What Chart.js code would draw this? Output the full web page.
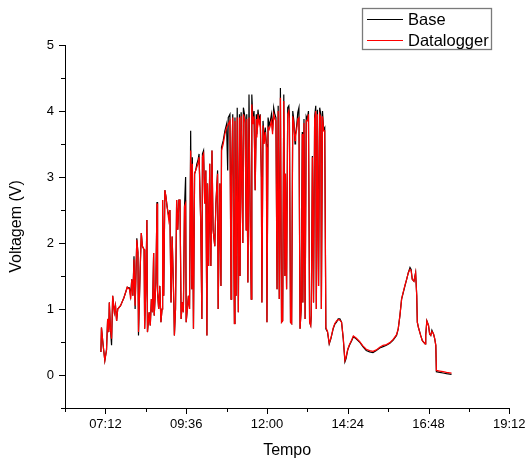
<!DOCTYPE html>
<html>
<head>
<meta charset="utf-8">
<script src="https://cdn.jsdelivr.net/npm/chart.js@4.4.1/dist/chart.umd.min.js"></script>
<style>
  html, body { margin: 0; padding: 0; background: #fff; overflow: hidden; }
  #wrap { width: 545px; height: 461px; }
</style>
</head>
<body>
<div id="wrap"><canvas id="chart" width="545" height="461"></canvas></div>
<script>
// Sample times (HH:MM) and voltages of the two acquisition systems
const times = [
  '07:04','07:05','07:08','07:11','07:14','07:16','07:18','07:19','07:21','07:23',
  '07:25','07:28','07:30','07:32','07:34','07:39','07:45','07:51','07:55','07:57',
  '07:59','08:01','08:03','08:05','08:08','08:10','08:11','08:14','08:16','08:18',
  '08:21','08:22','08:24','08:26','08:27','08:30','08:32','08:34','08:36','08:38',
  '08:39','08:42','08:44','08:45','08:47','08:49','08:51','08:53','08:54','08:56',
  '08:58','09:00','09:02','09:05','09:07','09:09','09:11','09:14','09:15','09:17',
  '09:19','09:21','09:23','09:25','09:27','09:29','09:31','09:33','09:35','09:36',
  '09:38','09:40','09:42','09:44','09:46','09:47','09:49','09:51','09:53','09:55',
  '09:57','09:59','10:02','10:04','10:05','10:07','10:09','10:11','10:13','10:14',
  '10:16','10:18','10:20','10:22','10:24','10:27','10:29','10:32','10:33','10:36',
  '10:38','10:39','10:42','10:45','10:48','10:50','10:51','10:54','10:56','10:57',
  '10:59','11:02','11:03','11:05','11:07','11:09','11:11','11:12','11:14','11:17',
  '11:18','11:21','11:23','11:24','11:26','11:28','11:30','11:32','11:33','11:35',
  '11:37','11:39','11:41','11:42','11:44','11:46','11:48','11:50','11:51','11:53',
  '11:55','11:57','11:59','12:00','12:02','12:04','12:06','12:08','12:10','12:12',
  '12:14','12:16','12:18','12:20','12:22','12:24','12:26','12:28','12:30','12:32',
  '12:33','12:35','12:37','12:39','12:40','12:42','12:44','12:46','12:48','12:50',
  '12:51','12:53','12:55','12:57','12:59','13:01','13:03','13:04','13:06','13:08',
  '13:10','13:12','13:14','13:16','13:18','13:19','13:21','13:23','13:25','13:27',
  '13:28','13:30','13:32','13:34','13:36','13:37','13:39','13:41','13:43','13:45',
  '13:48','13:51','13:54','13:58','14:01','14:04','14:07','14:10','14:13','14:16',
  '14:19','14:21','14:24','14:27','14:31','14:34','14:39','14:45','14:51','14:57',
  '15:03','15:09','15:15','15:21','15:27','15:33','15:39','15:45','15:51','15:54',
  '15:57','16:00','16:03','16:06','16:09','16:12','16:15','16:17','16:19','16:22',
  '16:25','16:27','16:28','16:30','16:34','16:37','16:42','16:43','16:45','16:48',
  '16:50','16:52','16:54','16:57','16:59','17:01','17:02','17:08','17:14','17:20',
  '17:29'
];

const base = [
  0.35,0.72,0.45,0.22,0.38,0.85,0.65,1.10,0.70,0.45,
  1.20,0.95,1.05,0.82,1.00,1.05,1.17,1.33,1.32,1.20,
  1.45,1.20,1.80,1.00,2.07,1.85,0.60,1.60,2.15,1.95,
  1.90,0.70,1.30,2.35,0.65,0.95,0.75,1.15,0.95,1.85,
  0.90,1.40,2.62,1.25,1.00,1.35,0.80,1.00,2.65,1.20,
  2.80,2.70,2.55,2.40,2.50,1.10,2.10,1.10,0.60,1.00,
  2.65,2.20,2.65,2.65,0.85,1.10,0.95,2.55,3.00,0.80,
  1.00,1.20,1.00,3.70,1.30,3.30,0.70,3.05,3.10,3.20,
  3.25,3.35,2.30,0.85,3.35,3.40,2.60,3.10,0.60,2.90,
  1.65,3.20,1.65,3.40,2.20,1.95,2.60,3.10,1.00,2.90,
  1.35,3.45,3.55,3.70,3.80,3.10,3.90,3.95,1.15,3.00,
  3.95,0.78,3.90,1.20,4.05,0.95,3.95,1.50,3.98,2.00,
  4.05,3.90,2.20,3.95,1.40,4.25,2.50,1.15,4.25,3.85,
  4.00,2.80,3.95,3.65,4.02,3.85,3.95,3.00,1.10,3.85,
  3.55,3.75,3.50,0.80,3.90,3.78,3.85,3.95,3.70,4.05,
  3.95,3.90,1.30,4.08,1.15,4.35,0.80,0.82,4.25,1.50,
  3.05,1.30,4.05,4.08,3.95,0.80,0.78,4.00,3.85,3.50,
  3.65,3.78,3.98,4.05,0.70,1.00,3.68,1.10,3.88,0.85,
  3.92,3.88,4.00,0.80,0.75,0.90,3.32,1.10,3.92,4.08,
  1.00,4.02,1.35,4.05,3.95,1.00,4.00,3.72,3.75,0.70,
  0.65,0.47,0.55,0.70,0.77,0.80,0.85,0.85,0.80,0.55,
  0.20,0.25,0.38,0.45,0.52,0.58,0.55,0.50,0.43,0.37,
  0.35,0.34,0.37,0.41,0.43,0.45,0.48,0.53,0.60,0.70,
  0.90,1.15,1.25,1.35,1.45,1.55,1.63,1.60,1.45,1.42,
  1.55,1.20,0.80,0.72,0.60,0.52,0.47,0.60,0.82,0.75,
  0.62,0.60,0.68,0.62,0.55,0.45,0.05,0.04,0.03,0.02,
  0.01
];

const datalogger = [
  0.35,0.72,0.45,0.22,0.38,0.85,0.65,1.10,0.70,0.55,
  1.20,0.95,1.05,0.82,1.00,1.05,1.17,1.33,1.30,1.15,
  1.45,1.20,1.75,1.05,2.05,1.85,0.65,1.60,2.15,1.95,
  1.90,0.70,1.30,2.35,0.65,0.95,0.75,1.15,0.95,1.85,
  0.90,1.40,2.60,1.25,1.00,1.35,0.80,1.00,2.65,1.20,
  2.80,2.70,2.55,2.35,2.50,1.10,2.10,1.10,0.60,1.00,
  2.65,2.20,2.65,2.65,0.85,1.10,0.95,2.55,2.60,0.80,
  1.00,1.20,1.00,3.40,1.30,3.20,0.70,3.05,3.10,3.15,
  3.20,3.30,2.30,0.85,3.30,3.35,2.60,3.10,0.60,2.90,
  1.65,3.20,1.65,3.40,2.20,1.95,2.60,3.05,1.00,2.90,
  1.35,3.40,3.50,3.65,3.75,3.78,3.80,3.85,1.15,3.00,
  3.90,0.78,3.85,1.20,3.90,0.95,3.90,1.50,3.92,2.00,
  3.95,3.82,2.20,3.88,1.40,3.90,2.50,1.15,4.10,3.80,
  3.92,2.80,3.88,3.60,3.95,3.80,3.88,3.00,1.10,3.78,
  3.50,3.68,3.45,0.80,3.75,3.72,3.78,3.85,3.65,3.95,
  3.88,3.85,1.30,4.00,1.15,4.20,0.80,0.82,4.15,1.50,
  3.05,1.30,3.95,4.00,3.88,0.80,0.78,3.92,3.80,3.55,
  3.62,3.72,3.88,3.90,0.70,1.00,3.65,1.10,3.82,0.85,
  3.85,3.85,3.95,0.80,0.75,0.90,3.30,1.10,3.88,4.00,
  1.00,3.95,1.35,3.95,3.90,1.00,3.92,3.70,3.70,0.72,
  0.66,0.48,0.56,0.71,0.78,0.82,0.84,0.83,0.80,0.56,
  0.22,0.27,0.39,0.46,0.53,0.59,0.56,0.51,0.44,0.39,
  0.37,0.36,0.38,0.42,0.45,0.46,0.49,0.54,0.61,0.70,
  0.90,1.15,1.26,1.36,1.45,1.55,1.60,1.58,1.45,1.42,
  1.55,1.20,0.80,0.72,0.60,0.52,0.47,0.60,0.82,0.75,
  0.62,0.60,0.66,0.62,0.55,0.45,0.07,0.06,0.05,0.04,
  0.03
];

const seriesNames = ['Base', 'Datalogger'];
const seriesColors = ['#000000', '#ff0000'];
const xTickLabels = ['07:12', '09:36', '12:00', '14:24', '16:48', '19:12'];
const yTickLabels = ['0', '1', '2', '3', '4', '5'];

const FONT = '"Liberation Sans", Arial, Helvetica, sans-serif';

const toMinutes = s => { const [h, m] = s.split(':').map(Number); return h * 60 + m; };
const toClock = v => {
  const h = Math.floor(v / 60), m = Math.round(v - h * 60);
  return String(h).padStart(2, '0') + ':' + String(m).padStart(2, '0');
};
const points = vals => vals.map((v, i) => ({ x: toMinutes(times[i]), y: v }));

// Outward tick marks: long at labelled values, short in between
const tickMarks = {
  id: 'tickMarks',
  afterDraw(chart) {
    const { ctx, scales: { x, y } } = chart;
    ctx.save();
    ctx.strokeStyle = '#000';
    ctx.lineWidth = 1;
    ctx.beginPath();
    x.ticks.forEach(t => {
      const px = Math.round(x.getPixelForValue(t.value)) + 0.5;
      const len = t.label ? 6 : 4;
      ctx.moveTo(px, x.top);
      ctx.lineTo(px, x.top + len);
    });
    y.ticks.forEach(t => {
      const py = Math.round(y.getPixelForValue(t.value)) + 0.5;
      const len = t.label ? 6 : 4;
      ctx.moveTo(y.right, py);
      ctx.lineTo(y.right - len, py);
    });
    ctx.stroke();
    ctx.restore();
  }
};

// Boxed legend in the top-right corner
const boxLegend = {
  id: 'boxLegend',
  afterDraw(chart) {
    const ctx = chart.ctx;
    ctx.save();
    ctx.strokeStyle = '#7a7a7a';
    ctx.lineWidth = 1.3;
    ctx.strokeRect(362.5, 8.5, 129, 41);
    ctx.font = '16.5px ' + FONT;
    ctx.textBaseline = 'middle';
    ctx.textAlign = 'left';
    seriesNames.forEach((name, i) => {
      const yy = 19 + i * 21;
      ctx.strokeStyle = seriesColors[i];
      ctx.lineWidth = 1;
      ctx.beginPath();
      ctx.moveTo(367, yy + 0.5);
      ctx.lineTo(403, yy + 0.5);
      ctx.stroke();
      ctx.fillStyle = '#000';
      ctx.fillText(name, 408, yy + 1);
    });
    ctx.restore();
  }
};

new Chart(document.getElementById('chart'), {
  type: 'line',
  data: {
    datasets: [
      {
        label: seriesNames[0],
        data: points(base),
        borderColor: seriesColors[0],
        borderWidth: 1.2,
        pointRadius: 0,
        tension: 0,
        order: 2
      },
      {
        label: seriesNames[1],
        data: points(datalogger),
        borderColor: seriesColors[1],
        borderWidth: 1.25,
        pointRadius: 0,
        tension: 0,
        order: 1
      }
    ]
  },
  options: {
    responsive: false,
    animation: false,
    events: [],
    layout: { padding: { top: 45, right: 35.7, left: 0, bottom: 0 } },
    plugins: { legend: { display: false }, tooltip: { enabled: false } },
    scales: {
      x: {
        type: 'linear',
        min: 360,
        max: 1152,
        afterFit(s) { s.height = 53; },
        border: { display: true, color: '#000', width: 1 },
        grid: { display: true, drawOnChartArea: false, drawTicks: true, tickLength: 6, tickColor: 'rgba(0,0,0,0)' },
        ticks: {
          stepSize: 72,
          autoSkip: false,
          maxRotation: 0,
          padding: 3,
          color: '#000',
          font: { family: FONT, size: 13 },
          callback: v => xTickLabels.includes(toClock(v)) ? toClock(v) : ''
        },
        title: {
          display: true,
          text: 'Tempo',
          color: '#000',
          font: { family: FONT, size: 16 },
          padding: { top: 0, bottom: 1 }
        }
      },
      y: {
        type: 'linear',
        min: -0.5,
        max: 5,
        afterFit(s) { s.width = 65; },
        border: { display: true, color: '#000', width: 1 },
        grid: { display: true, drawOnChartArea: false, drawTicks: true, tickLength: 6, tickColor: 'rgba(0,0,0,0)' },
        ticks: {
          stepSize: 0.5,
          autoSkip: false,
          padding: 5,
          color: '#000',
          font: { family: FONT, size: 13 },
          callback: v => yTickLabels.includes(String(v)) ? String(v) : ''
        },
        title: {
          display: true,
          text: 'Voltagem (V)',
          color: '#000',
          font: { family: FONT, size: 16 },
          padding: { top: 7, bottom: 0 }
        }
      }
    }
  },
  plugins: [tickMarks, boxLegend]
});
</script>
</body>
</html>
